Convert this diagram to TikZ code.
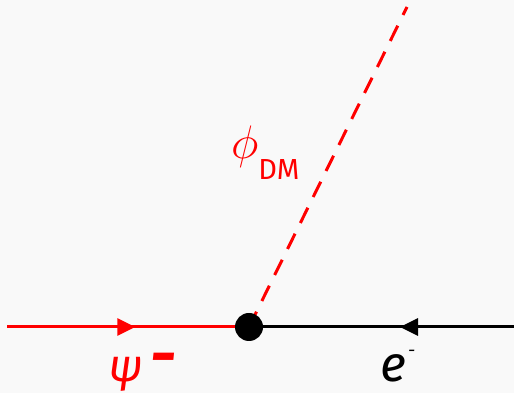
\documentclass[tikz,border=0pt]{standalone}
\usepackage{fix-cm}
\usepackage{fontspec}
\setmainfont{Fira Sans}
\usetikzlibrary{arrows.meta, decorations.markings}
\definecolor{bgcol}{RGB}{249,249,249}
\definecolor{dmred}{RGB}{255,0,0}
\begin{document}
\begin{tikzpicture}[
    x=1pt, y=1pt,
    fermion/.style={line width=3pt},
    scalar/.style={line width=3pt, dmred, dash pattern=on 17pt off 12pt},
    midarrow/.style={postaction={decorate}, decoration={markings,
        mark=at position #1 with {\arrow{Triangle[length=18pt, width=17pt]}}}},
    lbl/.style={inner sep=0pt, anchor=base west},
]

% --- Background ---
\fill[bgcol] (0,0) rectangle (514,393);
\useasboundingbox (0,0) rectangle (514,393);

% --- Vertex and outer ends ---
\coordinate (v) at (249,66);
\coordinate (psiin) at (7,66);
\coordinate (eout) at (514,66);
\coordinate (phiend) at (407,386);

% --- Lines ---
\draw[scalar] (v) -- (phiend);
\draw[fermion, dmred, midarrow=0.53] (psiin) -- (v);
\draw[fermion, black, midarrow=0.43] (eout) -- (v);
\node[circle, fill=black, minimum size=28pt, inner sep=0pt] (dot) at (v) {};

% --- Labels ---
\node[lbl, text=dmred, font=\fontsize{46}{46}\selectfont] (psilbl) at (108,11)
    {\itshape ψ\hspace{9pt}\raisebox{6pt}{\bfseries\scalebox{0.95}[1.3]{–}}};
\node[lbl, text=black, font=\fontsize{50}{50}\selectfont] (elbl) at (380,11)
    {\itshape e\hspace{2pt}\raisebox{25pt}{\fontsize{18}{18}\selectfont -}};
\node[lbl, text=dmred] (philbl) at (231,234)
    {{\fontsize{47}{47}\selectfont$\phi$}\raisebox{-21pt}{\fontsize{29}{29}\selectfont DM}};

\end{tikzpicture}
\end{document}
